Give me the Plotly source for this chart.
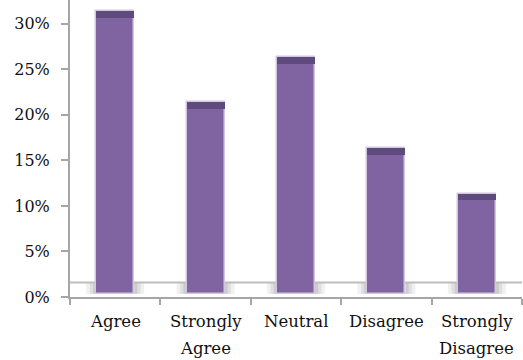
import plotly.graph_objects as go

# Survey responses (share of respondents, %)
categories = ["Agree", "Strongly Agree", "Neutral", "Disagree", "Strongly Disagree"]
label_line1 = ["Agree", "Strongly", "Neutral", "Disagree", "Strongly"]
label_line2 = ["", "Agree", "", "", "Disagree"]
values = [31, 21, 26, 16, 11]
y_ticks = [0, 5, 10, 15, 20, 25, 30]
y_tick_text = ["0%", "5%", "10%", "15%", "20%", "25%", "30%"]

FLOOR_BASE = 0.35   # bars stand on a thin 3-D floor
FLOOR_TOP = 1.6
CAP = 0.75          # darker top face of each column
BAR_W = 0.42

BAR_COLOR = "#8064A2"
CAP_COLOR = "#5F4A7E"
EDGE_COLOR = "#D3C6E2"
AXIS_COLOR = "#A6A6A6"
TEXT_COLOR = "#111111"
FONT = "DejaVu Serif"

x = list(range(len(categories)))

fig = go.Figure()
fig.add_trace(go.Bar(
    x=x, y=values, base=FLOOR_BASE, width=BAR_W,
    marker=dict(color=BAR_COLOR, line=dict(color=EDGE_COLOR, width=1.5)),
    hoverinfo="skip", showlegend=False,
))
fig.add_trace(go.Bar(
    x=x, y=[CAP] * len(values), base=[v + FLOOR_BASE - CAP for v in values], width=BAR_W,
    marker=dict(color=CAP_COLOR, line=dict(width=0)),
    hoverinfo="skip", showlegend=False,
))

shapes = []
# back edge of the floor
shapes.append(dict(type="line", xref="paper", yref="y", x0=0, x1=1, y0=FLOOR_TOP, y1=FLOOR_TOP,
                   line=dict(color="#BDBDBD", width=2), layer="below"))
# soft shadows beside each column foot, fading outward
for i in x:
    for side in (-1, 1):
        edge = i + side * BAR_W / 2
        for k, (w, op) in enumerate([(0.11, 0.12), (0.07, 0.15), (0.035, 0.2)]):
            shapes.append(dict(type="rect", xref="x", yref="y",
                               x0=edge, x1=edge + side * w, y0=FLOOR_BASE, y1=FLOOR_TOP - 0.1,
                               fillcolor="#808080", opacity=op, line=dict(width=0), layer="below"))

annotations = []
for i in x:
    annotations.append(dict(x=i, y=-0.043, xref="x", yref="paper", text=label_line1[i],
                            showarrow=False, yanchor="top",
                            font=dict(family=FONT, size=16.5, color=TEXT_COLOR)))
    if label_line2[i]:
        annotations.append(dict(x=i, y=-0.133, xref="x", yref="paper", text=label_line2[i],
                                showarrow=False, yanchor="top",
                                font=dict(family=FONT, size=16.5, color=TEXT_COLOR)))

fig.update_layout(
    width=523, height=360,
    margin=dict(l=70, r=1, t=0, b=63),
    paper_bgcolor="white", plot_bgcolor="white",
    barmode="overlay", bargap=0,
    shapes=shapes, annotations=annotations,
    font=dict(family=FONT, size=15, color=TEXT_COLOR),
)
fig.update_xaxes(
    range=[-0.5, len(categories) - 0.5],
    showticklabels=False, showgrid=False, zeroline=False,
    showline=True, linecolor=AXIS_COLOR, linewidth=2,
    tickmode="array", tickvals=[i - 0.5 for i in range(len(categories) + 1)],
    ticks="outside", ticklen=6, tickcolor=AXIS_COLOR, tickwidth=1.5,
)
fig.update_yaxes(
    range=[0, 32.6],
    tickmode="array", tickvals=y_ticks, ticktext=y_tick_text,
    showgrid=False, zeroline=False,
    showline=True, linecolor=AXIS_COLOR, linewidth=2,
    ticks="outside", ticklen=7, tickcolor=AXIS_COLOR, tickwidth=1.5,
    ticklabelstandoff=8,
    tickfont=dict(family=FONT, size=16, color=TEXT_COLOR),
)

fig.write_html("out.html")
